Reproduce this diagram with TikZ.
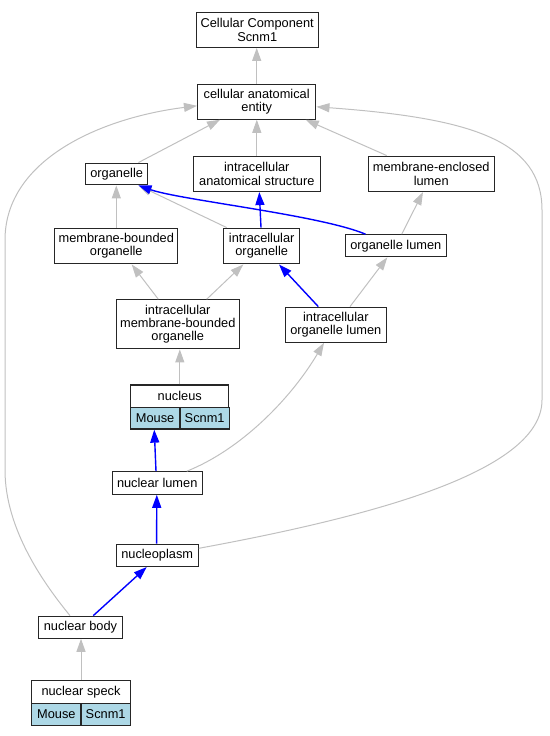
\documentclass[tikz,border=0pt]{standalone}
\usepackage{fontspec}
\setmainfont{Liberation Sans}
\usetikzlibrary{arrows.meta}
\definecolor{edgegray}{HTML}{C0C0C0}
\definecolor{cellblue}{HTML}{ADD8E6}
\newcommand{\gofont}{\fontsize{12.8}{13.3}\selectfont}
\tikzset{
  box/.style={draw=black!85, line width=1.2pt, fill=white, inner sep=0pt, align=center, font=\gofont},
  cellbox/.style={box, fill=cellblue},
  gedge/.style={draw=edgegray, line width=1pt, -{Triangle[length=13pt,width=9pt]}},
  bedge/.style={draw=blue, line width=1.4pt, -{Triangle[length=13pt,width=9pt]}},
}
\begin{document}
\begin{tikzpicture}[x=1pt,y=-1pt]
\useasboundingbox (0,0) rectangle (549,736);
% nodes
\node[box, minimum width=122pt, minimum height=35pt] (cc) at (257.2,29.8) {Cellular Component\\Scnm1};
\node[box, minimum width=118.3pt, minimum height=34.7pt] (cae) at (256.7,101.8) {cellular anatomical\\entity};
\node[box, minimum width=62.3pt, minimum height=21.7pt] (org) at (116.7,174) {organelle};
\node[box, minimum width=127.3pt, minimum height=35.3pt] (ias) at (256.8,173.8) {intracellular\\anatomical structure};
\node[box, minimum width=126pt, minimum height=35.3pt] (mel) at (431.2,173.8) {membrane-enclosed\\lumen};
\node[box, minimum width=123pt, minimum height=35.7pt] (mbo) at (116.3,246) {membrane-bounded\\organelle};
\node[box, minimum width=75.7pt, minimum height=35.7pt] (io) at (261.7,246) {intracellular\\organelle};
\node[box, minimum width=100.7pt, minimum height=22pt] (ol) at (395.8,245.8) {organelle lumen};
\node[box, minimum width=123.3pt, minimum height=49pt] (imbo) at (177.8,324.3) {intracellular\\membrane-bounded\\organelle};
\node[box, minimum width=100.7pt, minimum height=35pt] (iol) at (335.8,324.7) {intracellular\\organelle lumen};
\node[box, minimum width=98pt, minimum height=22.3pt] (nucleus) at (179.8,396.2) {nucleus};
\node[cellbox, minimum width=49.7pt, minimum height=21.7pt] (nucM) at (155.15,418.2) {Mouse};
\node[cellbox, minimum width=49.3pt, minimum height=21.7pt] (nucS) at (204.65,418.2) {Scnm1};
\node[box, minimum width=90pt, minimum height=22.4pt] (nl) at (157.2,483) {nuclear lumen};
\node[box, minimum width=82pt, minimum height=22.3pt] (np) at (157.2,555.3) {nucleoplasm};
\node[box, minimum width=83.4pt, minimum height=22pt] (nb) at (80.5,627.2) {nuclear body};
\node[box, minimum width=98.6pt, minimum height=22.6pt] (ns) at (81,692) {nuclear speck};
\node[cellbox, minimum width=49.3pt, minimum height=22pt] (nsM) at (56.35,714.3) {Mouse};
\node[cellbox, minimum width=49.3pt, minimum height=22pt] (nsS) at (105.65,714.3) {Scnm1};
% gray edges
\draw[gedge] (cae.north) -- (cae.north |- cc.south);
\draw[gedge] ([xshift=-10pt]org.north east) -- ([xshift=-36.7pt]cae.south);
\draw[gedge] (ias.north) -- (ias.north |- cae.south);
\draw[gedge] ([xshift=-44.5pt]mel.north) -- ([xshift=49pt]cae.south);
\draw[gedge] ([xshift=-10.5pt]nb.north) .. controls (45,585) and (5,530) .. (5,470) -- (5,240) .. controls (5,160) and (100,118) .. ([yshift=-4pt]cae.west);
\draw[gedge] ([yshift=7pt]np.east) .. controls (380,515) and (542,470) .. (542,400) -- (542,210) .. controls (542,140) and (470,118) .. ([yshift=-5pt]cae.east);
\draw[gedge] (mbo.north) -- (mbo.north |- org.south);
\draw[gedge] ([xshift=3.4pt]io.north west) -- ([xshift=-10pt]org.south east);
\draw[gedge] ([xshift=5.9pt]ol.north) -- ([xshift=-8.2pt]mel.south);
\draw[gedge] ([xshift=-19.5pt]imbo.north) -- ([xshift=15.4pt]mbo.south);
\draw[gedge] ([xshift=28.9pt]imbo.north) -- ([xshift=-18.4pt]io.south);
\draw[gedge] ([xshift=14.2pt]iol.north) -- ([xshift=-8.5pt]ol.south);
\draw[gedge] (nucleus.north) -- (nucleus.north |- imbo.south);
\draw[gedge] ([xshift=-16pt]nl.north east) .. controls (240,450) and (290,400) .. ([xshift=-11.8pt]iol.south);
\draw[gedge] (ns.north) -- (ns.north |- nb.south);
% blue edges
\draw[bedge] ([xshift=20.7pt]ol.north west) .. controls (320,215) and (180,200) .. ([xshift=-10pt]org.south east);
\draw[bedge] ([xshift=-0.7pt]io.north) -- ([xshift=2.5pt]ias.south);
\draw[bedge] ([xshift=-17.5pt]iol.north) -- ([xshift=17.3pt]io.south);
\draw[bedge] ([xshift=-1.2pt]nl.north) -- ([xshift=-0.9pt]nucM.south);
\draw[bedge] ([xshift=-0.6pt]np.north) -- ([xshift=-0.4pt]nl.south);
\draw[bedge] ([xshift=12.8pt]nb.north) -- ([xshift=-10.5pt]np.south);
\end{tikzpicture}
\end{document}
